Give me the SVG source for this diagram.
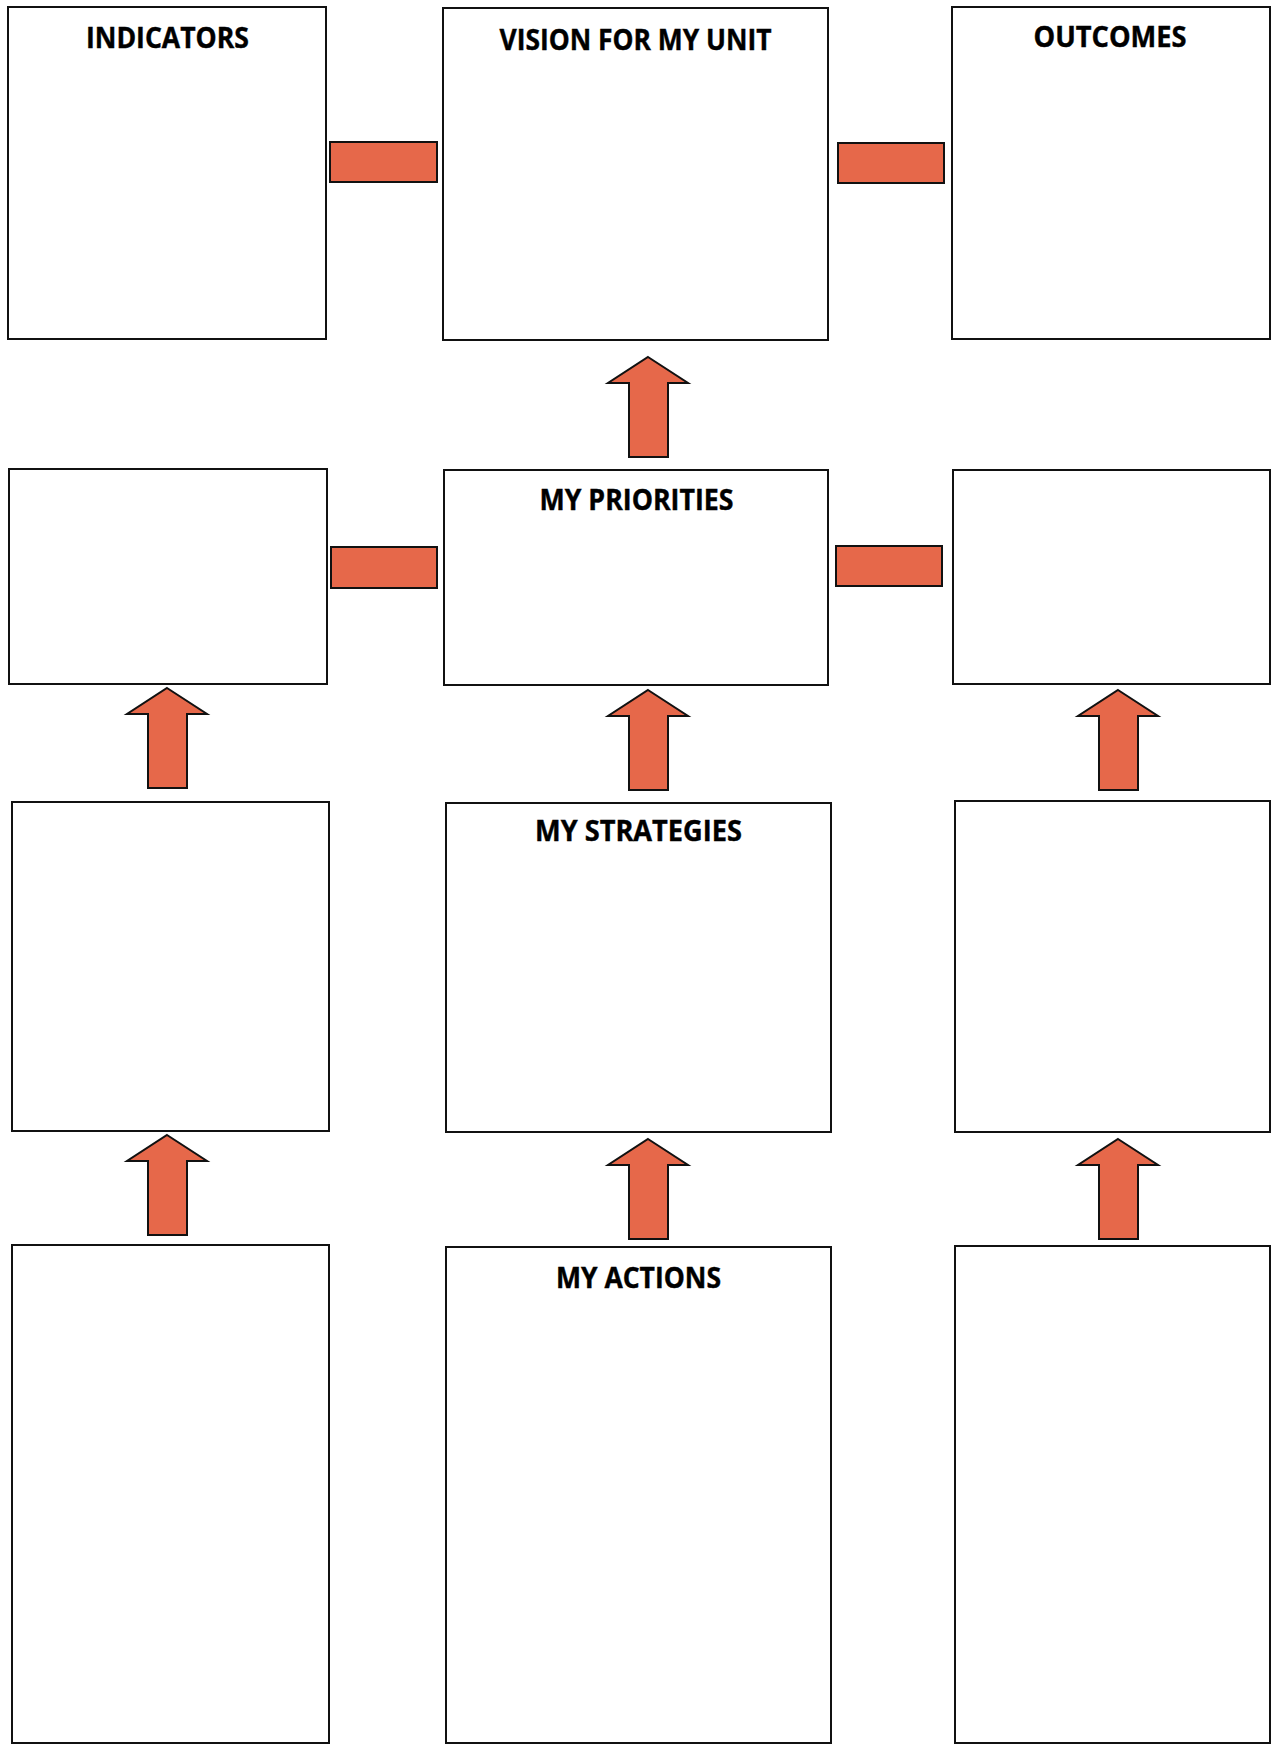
<svg xmlns="http://www.w3.org/2000/svg" xmlns:xlink="http://www.w3.org/1999/xlink" width="1272" height="1744" viewBox="0 0 1272 1744">
<style>
.box{fill:#ffffff;stroke:#111111;stroke-width:2}
.bar{fill:#E6684A;stroke:#111111;stroke-width:2}
.lbl{font-family:"Open Sans","Liberation Sans",sans-serif;font-weight:bold;font-size:28px;fill:#000000;text-anchor:middle;stroke:#000000;stroke-width:0.4}
</style>
<defs>
<path id="up" d="M0,0 L40,26 L20,26 L20,100 L-19,100 L-19,26 L-40,26 Z" fill="#E6684A" stroke="#111111" stroke-width="2" stroke-linejoin="miter"/>
</defs>
<rect width="1272" height="1744" fill="#ffffff"/>
<g id="indicators"><rect class="box" x="8" y="7" width="318" height="332"/><text class="lbl" x="167.5" y="48" textLength="163" lengthAdjust="spacingAndGlyphs">INDICATORS</text></g>
<g id="vision"><rect class="box" x="443" y="8" width="385" height="332"/><text class="lbl" x="635.5" y="50" textLength="272" lengthAdjust="spacingAndGlyphs">VISION FOR MY UNIT</text></g>
<g id="outcomes"><rect class="box" x="952" y="7" width="318" height="332"/><text class="lbl" x="1110" y="47" textLength="153" lengthAdjust="spacingAndGlyphs">OUTCOMES</text></g>
<g id="r2-left"><rect class="box" x="9" y="469" width="318" height="215"/></g>
<g id="priorities"><rect class="box" x="444" y="470" width="384" height="215"/><text class="lbl" x="636.5" y="510" textLength="194" lengthAdjust="spacingAndGlyphs">MY PRIORITIES</text></g>
<g id="r2-right"><rect class="box" x="953" y="470" width="317" height="214"/></g>
<g id="r3-left"><rect class="box" x="12" y="802" width="317" height="329"/></g>
<g id="strategies"><rect class="box" x="446" y="803" width="385" height="329"/><text class="lbl" x="638.5" y="841" textLength="207" lengthAdjust="spacingAndGlyphs">MY STRATEGIES</text></g>
<g id="r3-right"><rect class="box" x="955" y="801" width="315" height="331"/></g>
<g id="r4-left"><rect class="box" x="12" y="1245" width="317" height="498"/></g>
<g id="actions"><rect class="box" x="446" y="1247" width="385" height="496"/><text class="lbl" x="638.5" y="1288" textLength="165" lengthAdjust="spacingAndGlyphs">MY ACTIONS</text></g>
<g id="r4-right"><rect class="box" x="955" y="1246" width="315" height="497"/></g>
<g id="connectors">
<rect class="bar" x="330" y="142" width="107" height="40"/>
<rect class="bar" x="838" y="143" width="106" height="40"/>
<rect class="bar" x="331" y="547" width="106" height="41"/>
<rect class="bar" x="836" y="546" width="106" height="40"/>
<use xlink:href="#up" href="#up" transform="translate(648,357)"/>
<use xlink:href="#up" href="#up" transform="translate(167,688)"/>
<use xlink:href="#up" href="#up" transform="translate(648,690)"/>
<use xlink:href="#up" href="#up" transform="translate(1118,690)"/>
<use xlink:href="#up" href="#up" transform="translate(167,1135)"/>
<use xlink:href="#up" href="#up" transform="translate(648,1139)"/>
<use xlink:href="#up" href="#up" transform="translate(1118,1139)"/>
</g>
</svg>
